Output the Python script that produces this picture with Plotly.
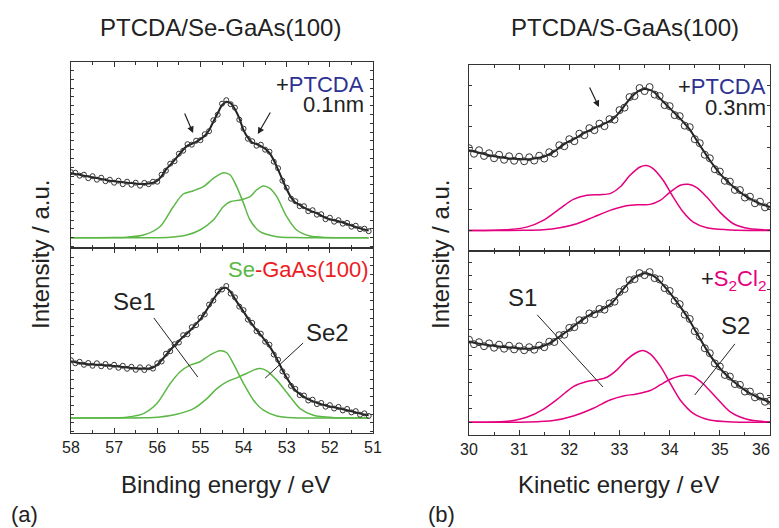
import plotly.graph_objects as go

# ---------------- data (intensities in arbitrary units) ----------------
be = [58.0, 57.9, 57.8, 57.7, 57.6, 57.5, 57.4, 57.3, 57.2, 57.1,
      57.0, 56.9, 56.8, 56.7, 56.6, 56.5, 56.4, 56.3, 56.2, 56.1,
      56.0, 55.9, 55.8, 55.7, 55.6, 55.5, 55.4, 55.3, 55.2, 55.1,
      55.0, 54.9, 54.8, 54.7, 54.6, 54.5, 54.4, 54.3, 54.2, 54.1,
      54.0, 53.9, 53.8, 53.7, 53.6, 53.5, 53.4, 53.3, 53.2, 53.1,
      53.0, 52.9, 52.8, 52.7, 52.6, 52.5, 52.4, 52.3, 52.2, 52.1,
      52.0, 51.9, 51.8, 51.7, 51.6, 51.5, 51.4, 51.3, 51.2, 51.1]

# (a) top: +PTCDA 0.1 nm
a_top_fit = [64.8, 63.8, 63.0, 62.0, 61.3, 60.4, 59.6, 58.8, 57.8, 57.0,
             56.5, 56.0, 55.5, 55.0, 54.6, 54.1, 53.7, 53.8, 54.2, 54.9,
             57.0, 61.5, 68.0, 72.8, 77.5, 82.8, 88.0, 92.0, 93.8, 95.8,
             98.6, 102.0, 107.5, 116.0, 124.4, 132.5, 136.0, 134.5, 128.5, 119.5,
             107.5, 100.0, 95.2, 93.7, 91.6, 89.0, 84.8, 77.5, 68.0, 58.0,
             48.5, 40.3, 35.2, 32.8, 30.0, 27.9, 26.0, 24.3, 22.1, 19.9,
             18.6, 17.4, 16.4, 15.2, 13.7, 12.2, 10.8, 9.3, 8.2, 7.2]
a_top_data = [65.5, 65.0, 62.0, 63.0, 59.5, 61.5, 58.0, 60.0, 56.5, 58.0,
              55.0, 57.0, 53.5, 56.0, 53.0, 55.0, 52.0, 54.8, 53.5, 56.0,
              56.0, 63.0, 67.0, 74.0, 76.5, 84.0, 87.0, 93.5, 93.0, 97.0,
              97.5, 103.5, 106.5, 117.5, 123.0, 134.0, 137.5, 133.5, 130.0, 118.0,
              109.0, 99.0, 96.5, 92.0, 93.0, 88.0, 86.0, 76.0, 69.5, 57.0,
              50.0, 39.0, 36.5, 31.5, 31.5, 26.5, 27.5, 23.0, 23.5, 18.5,
              20.0, 16.0, 17.5, 14.0, 14.8, 11.0, 12.0, 8.5, 9.0, 6.5]
a_top_se1_x = [58.0, 57.4, 57.0, 56.71, 56.32, 55.94, 55.63, 55.40, 55.16, 54.93, 54.70,
               54.47, 54.31, 54.16, 54.00, 53.85, 53.62, 53.23, 52.85, 52.4, 51.1]
a_top_se1_y = [0, 0, 0.1, 0.5, 2.7, 11.0, 31.0, 43.7, 47.0, 51.0, 59.3,
               65.0, 62.7, 51.0, 34.3, 17.7, 6.0, 1.0, 0.1, 0, 0]
a_top_se2_x = [58.0, 57.0, 56.2, 55.7, 55.32, 55.01, 54.70, 54.47, 54.31, 54.08, 53.85,
               53.70, 53.54, 53.39, 53.23, 53.00, 52.77, 52.46, 52.07, 51.6, 51.1]
a_top_se2_y = [0, 0, 0, 0.5, 2.7, 7.7, 17.7, 31.0, 36.0, 37.7, 41.0,
               47.7, 51.7, 49.3, 41.0, 21.0, 7.7, 1.7, 0.2, 0, 0]

# (a) bottom: Se-GaAs(100)
a_bot_fit = [56.5, 55.6, 54.8, 54.1, 53.6, 53.3, 53.1, 52.9, 52.5, 52.1,
             51.7, 51.2, 50.8, 50.3, 49.8, 49.4, 49.2, 49.1, 49.2, 50.3,
             53.1, 57.5, 62.5, 67.7, 72.2, 76.5, 81.0, 84.7, 88.9, 93.8,
             98.5, 104.5, 111.4, 118.2, 124.5, 129.0, 129.7, 125.4, 118.7, 112.2,
             106.0, 99.3, 93.2, 87.7, 82.5, 77.1, 71.6, 64.5, 56.6, 47.8,
             40.0, 33.3, 27.6, 24.0, 21.0, 18.6, 16.8, 15.0, 13.7, 12.4,
             11.4, 10.6, 9.7, 8.7, 7.7, 6.7, 5.5, 4.3, 3.4, 2.7]
a_bot_data = [57.5, 54.5, 56.0, 53.0, 54.8, 52.0, 54.5, 51.5, 53.8, 51.0,
              53.0, 50.0, 52.0, 49.0, 51.0, 48.0, 50.5, 47.8, 50.5, 49.2,
              54.5, 56.3, 64.0, 66.5, 73.5, 75.2, 82.5, 83.5, 90.5, 92.5,
              100.0, 103.2, 113.0, 117.0, 126.0, 128.0, 131.5, 124.0, 120.2, 111.0,
              107.5, 98.0, 94.8, 86.5, 84.0, 76.0, 73.0, 63.2, 58.0, 46.5,
              41.5, 32.0, 29.0, 22.8, 22.4, 17.4, 18.2, 13.8, 15.0, 11.2,
              12.8, 9.4, 11.0, 7.5, 9.0, 5.5, 6.8, 3.2, 4.6, 2.0]
a_bot_se1_x = [58.0, 57.4, 57.0, 56.71, 56.32, 56.01, 55.70, 55.47, 55.24, 55.01, 54.78,
               54.55, 54.39, 54.24, 54.00, 53.77, 53.54, 53.23, 52.85, 52.4, 51.1]
a_bot_se1_y = [0, 0, 0.1, 0.7, 4.3, 14.3, 34.3, 46.0, 52.7, 56.0, 62.7,
               67.0, 65.0, 54.3, 34.3, 17.7, 7.7, 2.0, 0.2, 0, 0]
a_bot_se2_x = [58.0, 57.0, 56.3, 55.94, 55.55, 55.16, 54.85, 54.62, 54.39, 54.16, 53.93,
               53.77, 53.62, 53.46, 53.23, 52.92, 52.69, 52.38, 51.92, 51.5, 51.1]
a_bot_se2_y = [0, 0, 0.2, 1.0, 3.7, 9.3, 19.3, 29.3, 36.0, 40.0, 44.3,
               47.7, 49.3, 47.0, 37.7, 21.0, 9.3, 2.7, 0.3, 0, 0]

ke = [30.0, 30.1, 30.2, 30.3, 30.4, 30.5, 30.6, 30.7, 30.8, 30.9,
      31.0, 31.1, 31.2, 31.3, 31.4, 31.5, 31.6, 31.7, 31.8, 31.9,
      32.0, 32.1, 32.2, 32.3, 32.4, 32.5, 32.6, 32.7, 32.8, 32.9,
      33.0, 33.1, 33.2, 33.3, 33.4, 33.5, 33.6, 33.7, 33.8, 33.9,
      34.0, 34.1, 34.2, 34.3, 34.4, 34.5, 34.6, 34.7, 34.8, 34.9,
      35.0, 35.1, 35.2, 35.3, 35.4, 35.5, 35.6, 35.7, 35.8, 35.9,
      36.0]

# (b) top: +PTCDA 0.3 nm
b_top_fit = [80.0, 78.8, 77.5, 76.3, 75.0, 74.0, 73.2, 72.5, 71.8, 71.5,
             71.2, 71.0, 71.1, 71.7, 72.5, 73.7, 76.0, 78.7, 82.6, 86.0,
             89.0, 91.3, 94.3, 97.2, 99.7, 102.1, 104.3, 106.5, 109.0, 112.5,
             118.0, 124.5, 131.0, 136.0, 139.7, 141.0, 140.2, 137.5, 132.0, 127.0,
             122.0, 117.0, 112.0, 106.5, 100.7, 93.0, 85.0, 77.5, 70.0, 63.2,
             56.7, 51.5, 46.7, 42.4, 38.3, 34.8, 31.7, 29.1, 26.7, 25.0,
             23.3]
b_top_data = [82.0, 76.5, 80.0, 74.3, 77.0, 72.0, 75.5, 70.5, 74.0, 69.5,
              73.5, 69.0, 73.0, 69.7, 74.5, 71.7, 78.0, 76.7, 85.0, 84.0,
              91.0, 89.0, 96.5, 95.0, 102.0, 100.0, 106.5, 104.0, 111.0, 110.5,
              120.0, 122.5, 133.0, 134.0, 142.0, 139.0, 143.0, 135.5, 134.0, 125.0,
              124.0, 115.0, 114.0, 104.5, 103.0, 91.0, 87.0, 75.5, 72.0, 61.0,
              58.7, 49.5, 48.7, 40.4, 40.3, 32.8, 33.7, 27.1, 28.7, 23.0,
              24.5]
b_top_s1_x = [30.0, 30.5, 30.82, 31.15, 31.48, 31.81, 32.08, 32.35, 32.61, 32.81, 33.01,
              33.21, 33.41, 33.54, 33.67, 33.87, 34.07, 34.27, 34.47, 34.74, 35.14, 35.6, 36.0]
b_top_s1_y = [0, 0.3, 1.0, 3.3, 10.0, 21.7, 31.0, 35.0, 35.7, 36.7, 43.3,
              55.0, 63.3, 64.7, 61.7, 50.0, 33.3, 18.3, 8.3, 2.7, 0.7, 0, 0]
b_top_s2_x = [30.0, 30.6, 31.1, 31.48, 31.81, 32.15, 32.48, 32.81, 33.14, 33.41, 33.61,
              33.81, 34.01, 34.21, 34.37, 34.54, 34.74, 35.00, 35.27, 35.60, 36.0]
b_top_s2_y = [0, 0, 0.1, 0.7, 2.7, 6.7, 13.3, 20.0, 24.7, 25.7, 26.0,
              30.0, 38.3, 45.0, 46.0, 42.7, 33.3, 18.3, 6.7, 1.7, 0.5]

# (b) bottom: +S2Cl2
b_bot_fit = [80.7, 79.5, 78.5, 77.7, 77.0, 76.3, 75.8, 75.2, 74.8, 74.4,
             74.0, 73.5, 73.4, 74.0, 75.0, 76.7, 78.8, 81.9, 85.4, 89.0,
             92.6, 96.5, 100.3, 103.8, 107.0, 109.5, 111.5, 114.0, 117.0, 122.0,
             128.5, 134.5, 140.2, 144.5, 147.2, 148.8, 148.0, 145.5, 141.0, 135.5,
             129.5, 123.0, 116.3, 109.0, 101.5, 92.5, 84.0, 75.5, 67.3, 60.3,
             54.0, 48.8, 44.0, 39.7, 35.7, 32.2, 29.0, 26.4, 24.0, 22.0,
             20.0]
b_bot_data = [82.5, 78.0, 80.0, 76.0, 78.8, 74.5, 77.5, 73.5, 76.5, 72.8,
              75.8, 72.0, 75.0, 72.5, 76.7, 75.0, 80.5, 80.2, 87.0, 87.5,
              94.3, 95.0, 102.0, 102.0, 108.7, 108.0, 113.2, 112.5, 118.7, 120.5,
              130.2, 133.0, 142.0, 143.0, 149.0, 147.0, 150.0, 144.0, 142.7, 134.0,
              131.2, 121.5, 118.0, 107.5, 103.2, 91.0, 85.7, 74.0, 69.0, 58.8,
              55.7, 47.3, 45.7, 38.2, 37.4, 30.7, 30.7, 24.9, 25.7, 20.5,
              21.5]
b_bot_s1_x = [30.0, 30.49, 30.82, 31.15, 31.48, 31.81, 32.08, 32.35, 32.55, 32.75, 32.95,
              33.14, 33.34, 33.47, 33.61, 33.81, 34.01, 34.21, 34.47, 34.80, 35.27, 35.7, 36.0]
b_bot_s1_y = [0, 0.3, 1.3, 5.0, 13.0, 25.0, 35.7, 40.7, 42.3, 45.0, 52.3,
              62.3, 69.7, 71.7, 68.3, 56.3, 39.0, 22.3, 9.0, 2.3, 0.2, 0, 0]
b_bot_s2_x = [30.0, 30.7, 31.15, 31.68, 32.08, 32.48, 32.81, 33.08, 33.34, 33.61, 33.81,
              34.01, 34.21, 34.34, 34.47, 34.67, 34.94, 35.20, 35.54, 36.0]
b_bot_s2_y = [0, 0, 0.2, 1.7, 6.3, 14.0, 22.3, 26.3, 28.3, 31.7, 37.3,
              43.0, 46.3, 47.0, 45.7, 38.3, 24.0, 10.7, 3.0, 0.3]

be_ticks = [58, 57, 56, 55, 54, 53, 52, 51]
ke_ticks = [30, 31, 32, 33, 34, 35, 36]

# ---------------- styles ----------------
GREEN = '#5cb846'
MAGENTA = '#e4007f'
BLUE = '#2e3192'
RED = '#ed1c24'
INK = '#222222'
FONT = 'Liberation Sans, Arial, sans-serif'
OFF = 8                                  # page (body) margin of the browser
W, H = 779 - OFF, 528 - OFF

fig = go.Figure()


def add_panel(xa, ya, x, fit, data, c1x, c1y, c2x, c2y, color, msize):
    for cx, cy in ((c1x, c1y), (c2x, c2y)):
        fig.add_trace(go.Scatter(x=cx, y=cy, mode='lines', xaxis=xa, yaxis=ya,
                                 line=dict(color=color, width=1.5, shape='spline', smoothing=0.8),
                                 hoverinfo='skip'))
    fig.add_trace(go.Scatter(x=x, y=fit, mode='lines', xaxis=xa, yaxis=ya,
                             line=dict(color=INK, width=2, shape='spline', smoothing=0.8),
                             hoverinfo='skip'))
    fig.add_trace(go.Scatter(x=x, y=data, mode='markers', xaxis=xa, yaxis=ya,
                             marker=dict(symbol='circle-open', size=msize,
                                         color='#333333', line=dict(width=1, color='#333333')),
                             hoverinfo='skip'))


add_panel('x', 'y', be, a_top_fit, a_top_data, a_top_se1_x, a_top_se1_y,
          a_top_se2_x, a_top_se2_y, GREEN, 5)
add_panel('x2', 'y2', be, a_bot_fit, a_bot_data, a_bot_se1_x, a_bot_se1_y,
          a_bot_se2_x, a_bot_se2_y, GREEN, 5)
add_panel('x3', 'y3', ke, b_top_fit, b_top_data, b_top_s1_x, b_top_s1_y,
          b_top_s2_x, b_top_s2_y, MAGENTA, 7)
add_panel('x4', 'y4', ke, b_bot_fit, b_bot_data, b_bot_s1_x, b_bot_s1_y,
          b_bot_s2_x, b_bot_s2_y, MAGENTA, 7)


def xax(rng, ticks, texts, dom, anchor, labels):
    return dict(domain=dom, range=rng, anchor=anchor, autorange=False, automargin=False,
                tickmode='array', tickvals=ticks, ticktext=texts,
                showticklabels=labels, ticks='inside', ticklen=5, tickwidth=1,
                tickcolor='#333333', ticklabeloverflow='allow',
                minor=dict(ticks='inside', ticklen=3, dtick=0.5, tickcolor='#333333', showgrid=False),
                showline=True, linecolor='#333333', linewidth=1, mirror='ticks',
                showgrid=False, zeroline=False,
                tickfont=dict(family=FONT, size=16, color=INK))


def yax(rng, dom, anchor, dt, t0):
    return dict(domain=dom, range=rng, anchor=anchor, autorange=False, automargin=False,
                showticklabels=False, ticks='inside', ticklen=3, tickwidth=1,
                tickcolor='#333333', dtick=dt, tick0=t0,
                showline=True, linecolor='#333333', linewidth=1, mirror='ticks',
                showgrid=False, zeroline=False)


def px(x):
    return (x - OFF) / W


def py(y):
    return 1 - (y - OFF) / H


left_dom = [px(71), px(373)]
right_dom = [px(469), px(770)]
be_text = [str(t) for t in be_ticks]
# the last kinetic-energy label sits on the window edge; it is drawn as a note below
ke_text = [str(t) for t in ke_ticks[:-1]] + ['']

fig.update_layout(
    template='none',
    width=W, height=H, autosize=False, margin=dict(l=0, r=0, t=0, b=0, pad=0),
    paper_bgcolor='white', plot_bgcolor='white', showlegend=False,
    hovermode=False,
    xaxis=xax([58, 51], be_ticks, be_text, left_dom, 'y', False),
    yaxis=yax([-10.3, 175.7], [py(248), py(62)], 'x', 8.8, 0),
    xaxis2=xax([58, 51], be_ticks, be_text, left_dom, 'y2', True),
    yaxis2=yax([-15.0, 169.4], [py(433), py(248)], 'x2', 8.7, -5),
    xaxis3=xax([30, 36], ke_ticks, ke_text, right_dom, 'y3', False),
    yaxis3=yax([-20.0, 165.0], [py(250.5), py(65)], 'x3', 20.7, 0),
    xaxis4=xax([30, 36], ke_ticks, ke_text, right_dom, 'y4', True),
    yaxis4=yax([-12.7, 171.6], [py(435), py(250.5)], 'x4', 13.3, 0),
)

ann = []


def txt(text, x, y, size, xanchor='center', color=INK, angle=0):
    ann.append(dict(text=text, x=px(x), y=py(y), xref='paper', yref='paper',
                    xanchor=xanchor, yanchor='middle', showarrow=False, textangle=angle,
                    font=dict(family=FONT, size=size, color=color)))


txt('PTCDA/Se-GaAs(100)', 220, 28, 24)
txt('PTCDA/S-GaAs(100)', 625, 28, 24)
txt('Binding energy / eV', 225, 484, 24)
txt('Kinetic energy / eV', 618, 484, 24)
txt('Intensity / a.u.', 40, 255, 24, angle=-90)
txt('Intensity / a.u.', 440, 255, 24, angle=-90)
txt('(a)', 24, 514, 22)
txt('(b)', 441, 514, 22)
txt(str(ke_ticks[-1]), 772, 449, 16, xanchor='right')

txt("+<span style='color:%s'>PTCDA</span>" % BLUE, 366, 84, 22, xanchor='right')
txt('0.1nm', 366, 104, 22, xanchor='right')
txt("<span style='color:%s'>Se</span><span style='color:%s'>-GaAs(100)</span>" % (GREEN, RED),
    371, 269, 22, xanchor='right')
txt('Se1', 134, 301, 24)
txt('Se2', 327, 332, 24)

txt("+<span style='color:%s'>PTCDA</span>" % BLUE, 768, 86, 22, xanchor='right')
txt('0.3nm', 768, 108, 22, xanchor='right')
txt("+<span style='color:%s'>S<sub>2</sub>Cl<sub>2</sub></span>" % MAGENTA, 768, 280, 22,
    xanchor='right')
txt('S1', 522, 297, 24)
txt('S2', 735, 325, 24)


def arrow(xr, yr, tail, head):
    ann.append(dict(x=head[0], y=head[1], ax=tail[0], ay=tail[1], xref=xr, yref=yr,
                    axref=xr, ayref=yr, text='', showarrow=True, arrowhead=2,
                    arrowsize=1.1, arrowwidth=1.2, arrowcolor=INK, standoff=0))


arrow('x', 'y', (55.38, 125.7), (55.17, 104.7))
arrow('x', 'y', (53.36, 126.7), (53.67, 103.7))
arrow('x3', 'y3', (32.39, 144.0), (32.59, 123.0))

fig.update_layout(annotations=ann)

shapes = []


def leader(xr, yr, p0, p1):
    shapes.append(dict(type='line', xref=xr, yref=yr, x0=p0[0], y0=p0[1], x1=p1[0], y1=p1[1],
                       line=dict(color=INK, width=1)))


leader('x2', 'y2', (56.08, 99.7), (55.06, 40.7))
leader('x2', 'y2', (52.62, 74.7), (53.50, 39.7))
leader('x4', 'y4', (31.36, 107.3), (32.67, 35.3))
leader('x4', 'y4', (35.30, 78.3), (34.50, 27.3))
fig.update_layout(shapes=shapes)

fig.write_html("out.html")
